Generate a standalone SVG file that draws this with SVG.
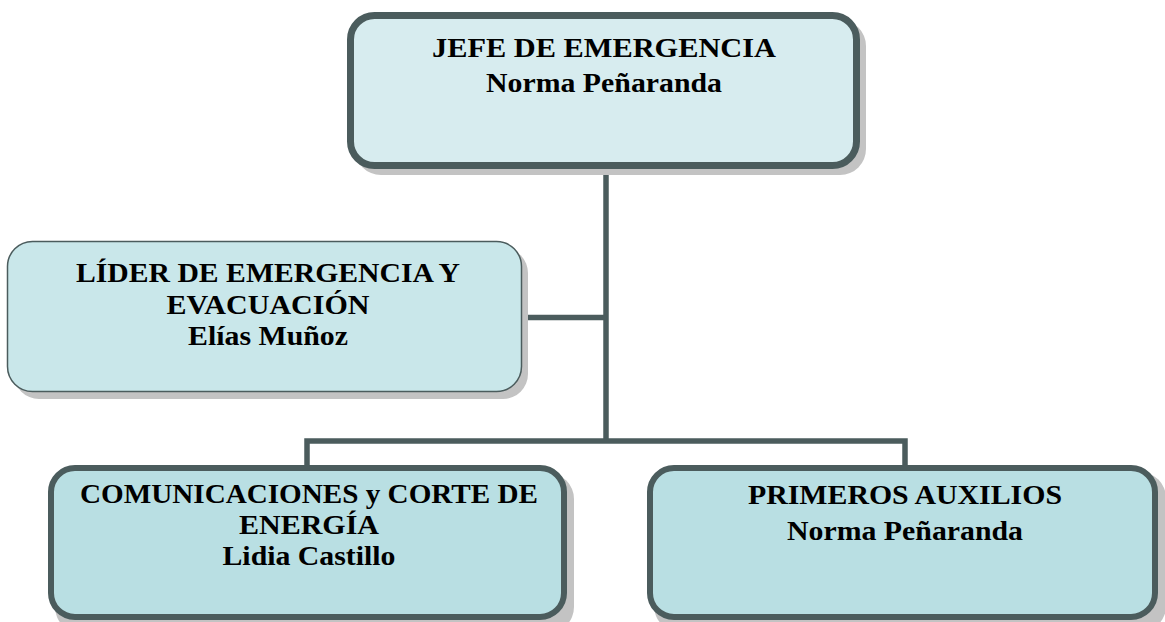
<svg xmlns="http://www.w3.org/2000/svg" width="1165" height="622" viewBox="0 0 1165 622">
<style>
.shadow{fill:#c3c3c3}
.box{stroke:#4b5c5d}
.thick{stroke-width:6}
.txt{font-family:"Liberation Serif","Times New Roman",serif;font-weight:bold;font-size:28px;fill:#000;text-anchor:middle}
.conn{stroke:#4b5c5d;stroke-width:5.5;fill:none}
</style>
<rect x="0" y="0" width="1165" height="622" fill="#ffffff"/>
<g id="connectors">
<line class="conn" x1="606" y1="166" x2="606" y2="443"/>
<line class="conn" x1="521" y1="317.5" x2="608" y2="317.5"/>
<polyline class="conn" points="307,467 307,441 905,441 905,467"/>
</g>
<g id="jefe">
<rect class="shadow" x="355" y="20" width="511" height="155" rx="26"/>
<rect class="box" x="350.5" y="15.5" width="506" height="150" rx="24" fill="#d7ecef" stroke-width="7"/>
<text class="txt" x="604" y="57" textLength="344" lengthAdjust="spacingAndGlyphs">JEFE DE EMERGENCIA</text>
<text class="txt" x="604" y="92" textLength="236" lengthAdjust="spacingAndGlyphs">Norma Peñaranda</text>
</g>
<g id="lider">
<rect class="shadow" x="14" y="248" width="514" height="151" rx="25"/>
<rect class="box" x="7.5" y="241.5" width="514" height="150" rx="25" fill="#c9e7ea" stroke-width="1.5"/>
<text class="txt" x="268" y="282" textLength="384" lengthAdjust="spacingAndGlyphs">LÍDER DE EMERGENCIA Y</text>
<text class="txt" x="268" y="313.5" textLength="203" lengthAdjust="spacingAndGlyphs">EVACUACIÓN</text>
<text class="txt" x="268" y="345" textLength="160" lengthAdjust="spacingAndGlyphs">Elías Muñoz</text>
</g>
<g id="comunicaciones">
<rect class="shadow" x="55" y="473" width="519" height="160" rx="26"/>
<rect class="box thick" x="51" y="468" width="513" height="149" rx="24" fill="#b9dfe3"/>
<text class="txt" x="309" y="503" textLength="458" lengthAdjust="spacingAndGlyphs">COMUNICACIONES y CORTE DE</text>
<text class="txt" x="309" y="534" textLength="140" lengthAdjust="spacingAndGlyphs">ENERGÍA</text>
<text class="txt" x="309" y="565" textLength="173" lengthAdjust="spacingAndGlyphs">Lidia Castillo</text>
</g>
<g id="primeros">
<rect class="shadow" x="654" y="472" width="512" height="160" rx="26"/>
<rect class="box thick" x="650" y="468" width="505" height="149" rx="24" fill="#b9dfe3"/>
<text class="txt" x="905" y="504" textLength="314" lengthAdjust="spacingAndGlyphs">PRIMEROS AUXILIOS</text>
<text class="txt" x="905" y="540" textLength="236" lengthAdjust="spacingAndGlyphs">Norma Peñaranda</text>
</g>
</svg>
